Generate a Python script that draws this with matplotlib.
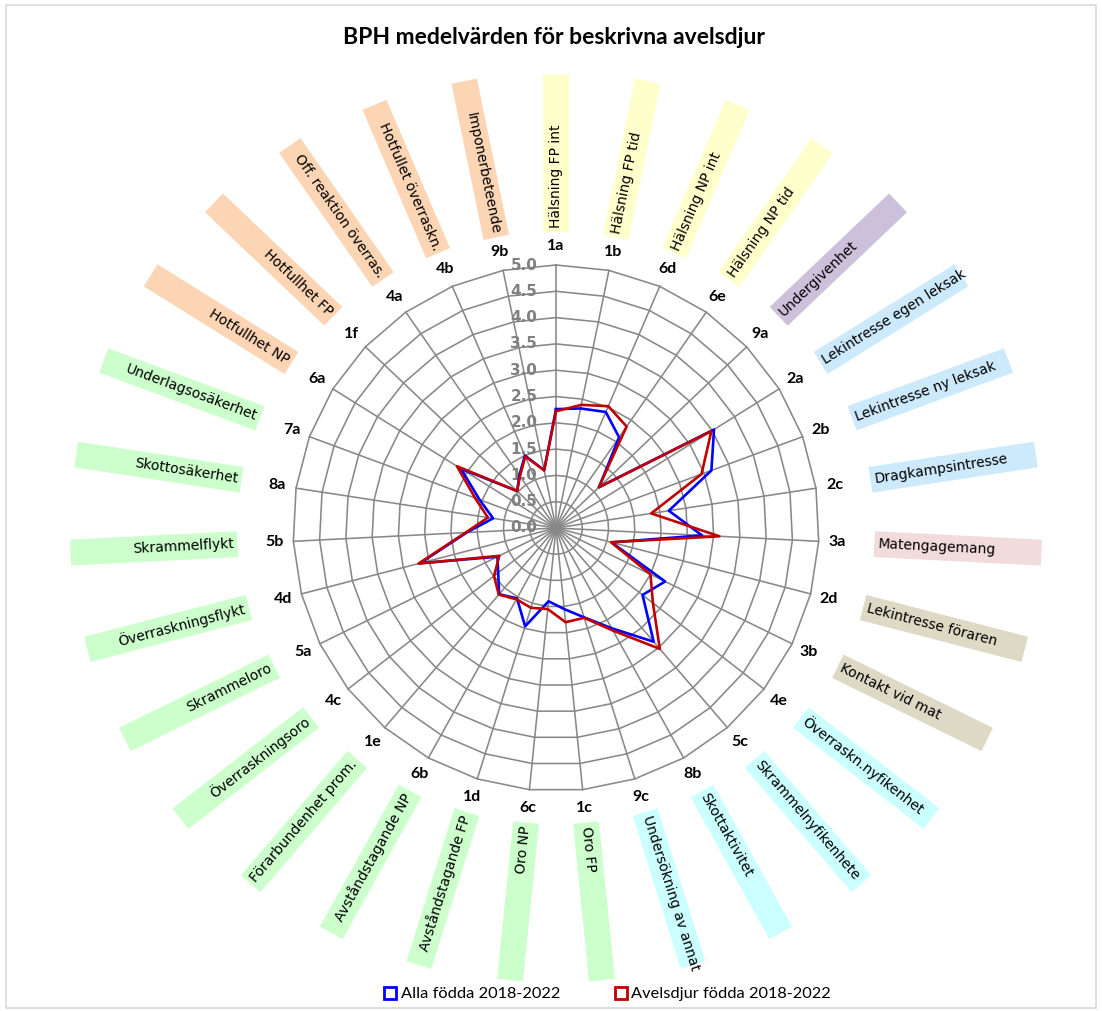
import numpy as np
import matplotlib.pyplot as plt
from matplotlib.lines import Line2D
from matplotlib.patches import Rectangle

# categories clockwise from the top
codes = ['1a', '1b', '6d', '6e', '9a', '2a', '2b', '2c', '3a', '2d', '3b', '4e', '5c', '8b', '9c',
         '1c', '6c', '1d', '6b', '1e', '4c', '5a', '4d', '5b', '8a', '7a', '6a', '1f', '4a', '4b', '9b']
names = ['Hälsning FP int', 'Hälsning FP tid', 'Hälsning NP int', 'Hälsning NP tid', 'Undergivenhet',
         'Lekintresse egen leksak', 'Lekintresse ny leksak', 'Dragkampsintresse', 'Matengagemang',
         'Lekintresse föraren', 'Kontakt vid mat', 'Överraskn.nyfikenhet', 'Skrammelnyfikenhete',
         'Skottaktivitet', 'Undersökning av annat', 'Oro FP', 'Oro NP', 'Avståndstagande FP',
         'Avståndstagande NP', 'Förarbundenhet prom.', 'Överraskningsoro', 'Skrammeloro',
         'Överraskningsflykt', 'Skrammelflykt', 'Skottosäkerhet', 'Underlagsosäkerhet',
         'Hotfullhet NP', 'Hotfullhet FP', 'Off. reaktion överras.', 'Hotfullet överraskn.',
         'Imponerbeteende']
groups = ['halsning'] * 4 + ['under'] + ['lek'] * 3 + ['mat'] + ['forare'] * 2 + ['nyfik'] * 4 + \
         ['oro'] * 11 + ['hot'] * 5

alla = [2.26, 2.32, 2.40, 2.10, 1.13, 3.54, 3.15, 2.17, 2.78, 1.09, 2.31, 2.08, 2.85, 2.18, 1.78,
        1.55, 1.40, 1.96, 1.53, 1.66, 1.39, 1.24, 2.67, 1.70, 1.21, 1.55, 2.13, 1.02, 1.22, 1.50, 1.12]
avel = [2.22, 2.39, 2.52, 2.35, 1.12, 3.48, 2.95, 1.83, 3.11, 1.08, 2.00, 2.33, 3.03, 2.23, 1.79,
        1.80, 1.55, 1.59, 1.55, 1.67, 1.49, 1.20, 2.70, 1.72, 1.31, 1.64, 2.22, 1.02, 1.20, 1.48, 1.12]

ticks = np.arange(0, 5.01, 0.5)

box_colors = {'halsning': '#ffffcc', 'under': '#ccc0da', 'lek': '#cdeafc', 'mat': '#f2dcdb',
              'forare': '#ddd9c4', 'nyfik': '#ccffff', 'oro': '#ccffcc', 'hot': '#fcd5b4'}
grid_c = '#888888'

n = len(codes)
theta = np.arange(n) * 2 * np.pi / n
closed = np.append(theta, theta[0])

fig = plt.figure(figsize=(11.02, 10.11), dpi=100)
fig.add_artist(Rectangle((0.005, 0.003), 0.99, 0.992, transform=fig.transFigure,
                         fill=False, edgecolor='#d9d9d9', lw=1.2))
fig.text(0.503, 1 - 38 / 1011, 'BPH medelvärden för beskrivna avelsdjur', ha='center', va='center',
         fontsize=16.5, fontweight='bold', family='Lato')

ax = fig.add_axes([0.2659, 0.2176, 0.4773, 0.5203], projection='polar')
ax.set_theta_zero_location('N')
ax.set_theta_direction(-1)
ax.set_ylim(0, 5)
ax.grid(False)
ax.set_xticks([])
ax.set_yticks([])
ax.spines['polar'].set_visible(False)

# polygon grid + spokes
for r in ticks[1:]:
    ax.plot(closed, [r] * (n + 1), color=grid_c, lw=1.15, clip_on=False, zorder=1)
for t in theta:
    ax.plot([t, t], [0, 5], color=grid_c, lw=1.15, clip_on=False, zorder=1)
for r in ticks:
    ax.annotate(f'{r:.1f}', xy=(0, r), xytext=(-13.5, 0), textcoords='offset points',
                ha='right', va='center', fontsize=11, fontweight='bold', color='#808080', zorder=2)

ax.plot(closed, alla + alla[:1], color='#0000ff', lw=1.9, zorder=3)
ax.plot(closed, avel + avel[:1], color='#c00000', lw=1.9, zorder=4)

# category codes and coloured name boxes (boxes sit on a slightly wide ellipse)
unit = 52.8  # px per scale unit
for t, code, name, g in zip(theta, codes, names, groups):
    ax.text(t, 5.36, code, ha='center', va='center', fontsize=11.5, fontweight='bold', family='Lato')
    s, c = np.sin(t), np.cos(t)
    r_in = 1 / np.sqrt((s / 320) ** 2 + (c / 297) ** 2) / unit
    r_out = r_in + (158 + 10 * abs(s)) / unit
    ax.plot([t, t], [r_in, r_out], color=box_colors[g], lw=18.7, solid_capstyle='butt',
            clip_on=False, zorder=0)
    deg = np.degrees(t)
    if deg <= 180:
        rot, ha = 90 - deg, 'left'
    else:
        rot, ha = 270 - deg, 'right'
    ax.text(t, r_in + 0.07, name, rotation=rot, rotation_mode='anchor', ha=ha, va='center',
            fontsize=10, clip_on=False)

handles = [Line2D([], [], marker='s', ls='none', mfc='white', mec='#0000ff', mew=2, ms=8),
           Line2D([], [], marker='s', ls='none', mfc='white', mec='#c00000', mew=2, ms=8)]
fig.legend(handles, ['Alla födda 2018-2022', 'Avelsdjur födda 2018-2022'], loc='center',
           bbox_to_anchor=(0.551, 1 - 994 / 1011), ncol=2, frameon=False,
           prop={'family': 'Lato', 'size': 11.8}, handletextpad=0.25, columnspacing=3.3,
           handlelength=0.8)

fig.savefig('out.png', dpi=100)
